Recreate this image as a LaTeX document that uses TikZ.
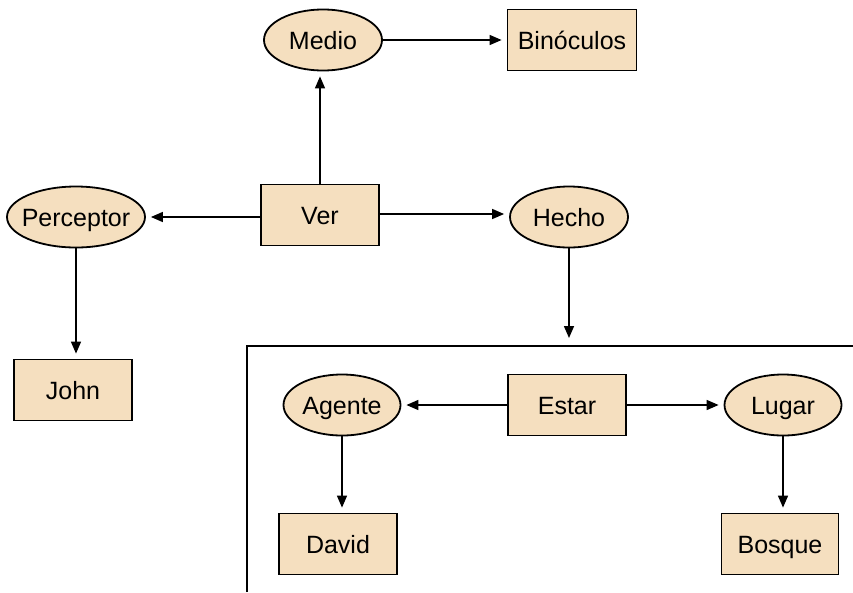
\documentclass[tikz,border=0pt]{standalone}
\usepackage{fontspec}
\setmainfont{Liberation Sans}
\usetikzlibrary{arrows.meta,shapes.geometric}
\definecolor{nodefill}{RGB}{245,223,191}
\tikzset{
  base/.style={draw=black, line width=1.8pt, fill=nodefill, inner sep=0pt, text height=20pt, text depth=2pt, font=\fontsize{25}{29}\selectfont},
  ell/.style={base, ellipse, inner xsep=-10pt, minimum width=118pt, minimum height=61pt},
  box/.style={base, rectangle, minimum width=118pt, minimum height=61pt},
  arr/.style={line width=1.5pt, -{Triangle[length=12pt,width=10pt]}, shorten >=5pt}
}
\begin{document}
\begin{tikzpicture}[x=1pt,y=-1pt]
\useasboundingbox (0,0) rectangle (853,592);
% frame
\coordinate (fa) at (247,592);
\coordinate (fb) at (247,346);
\coordinate (fc) at (853,346);
\draw[line width=1.8pt] (fa) -- (fb) -- (fc);
% nodes
\node[ell] (medio) at (323,40) {Medio};
\node[box, minimum width=129pt] (bino) at (572,40) {Binóculos};
\node[ell, minimum width=138pt] (perc) at (76,217) {Perceptor};
\node[box] (ver) at (320,215) {Ver};
\node[ell] (hecho) at (569,217) {Hecho};
\node[box] (john) at (73,390) {John};
\node[ell, minimum width=117pt] (agente) at (342,405) {Agente};
\node[box] (estar) at (567,405) {Estar};
\node[ell, minimum width=117pt] (lugar) at (783,405) {Lugar};
\node[box] (david) at (338,544) {David};
\node[box, minimum width=117pt] (bosque) at (780,544) {Bosque};
\coordinate (ftop) at (569,346);
% arrows
\draw[arr] (ver.north) -- (ver.north |- medio.south);
\draw[arr] (medio.east) -- (medio.east -| bino.west);
\draw[arr] (ver.west |- perc.east) -- (perc.east);
\draw[arr] (ver.east |- 0,214) -- (hecho.west |- 0,214);
\draw[arr] (perc.south) -- (perc.south |- john.north);
\draw[arr, shorten >=8pt] (hecho.south) -- (ftop);
\draw[arr] (estar.west) -- (agente.east);
\draw[arr] (estar.east) -- (lugar.west);
\draw[arr] (agente.south) -- (agente.south |- david.north);
\draw[arr] (lugar.south) -- (lugar.south |- bosque.north);
\end{tikzpicture}
\end{document}
